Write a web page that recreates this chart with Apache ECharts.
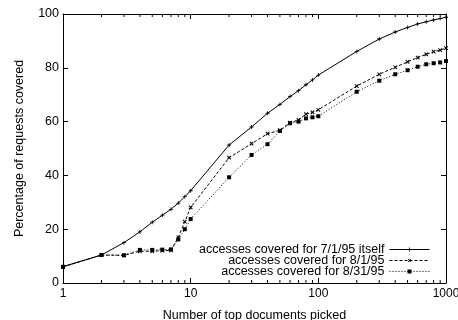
<!DOCTYPE html>
<html>
<head>
<meta charset="UTF-8">
<title></title>
<script src="https://cdn.jsdelivr.net/npm/echarts@6/dist/echarts.min.js"></script>
</head>
<body style="margin:0">
<div id="main" style="width:458px;height:320px;"></div>
<script type="text/javascript">
// number of top documents picked
var docs = [1, 2, 3, 4, 5, 6, 7, 8, 9, 10, 20, 30, 40, 50, 60, 70, 80, 90, 100, 200, 300, 400, 500, 600, 700, 800, 900, 1000];
var july1 = [6.1, 10.4, 15.0, 19.0, 22.6, 25.2, 27.4, 29.7, 32.1, 34.3, 51.3, 58.0, 63.1, 66.4, 69.3, 71.5, 73.7, 75.5, 77.3, 86.1, 90.7, 93.3, 95.0, 96.3, 97.1, 97.8, 98.3, 98.8];
var aug1 = [6.0, 10.4, 10.3, 11.8, 11.8, 12.0, 12.1, 17.0, 22.8, 28.1, 46.6, 51.8, 55.5, 56.8, 59.6, 60.6, 62.8, 63.4, 64.4, 73.2, 77.6, 80.2, 82.2, 83.8, 85.0, 86.0, 86.6, 87.3];
var aug31 = [6.0, 10.4, 10.3, 12.3, 12.3, 12.4, 12.5, 16.2, 20.0, 23.8, 39.3, 47.6, 51.6, 56.5, 59.4, 60.0, 61.2, 61.6, 62.0, 71.1, 75.2, 77.6, 79.1, 80.4, 81.3, 81.7, 82.0, 82.5];
var names = ['accesses covered for 7/1/95 itself', 'accesses covered for 8/1/95', 'accesses covered for 8/31/95'];
var minorTicks = [2, 3, 4, 5, 6, 7, 8, 9, 20, 30, 40, 50, 60, 70, 80, 90, 200, 300, 400, 500, 600, 700, 800, 900];

var font = 'Liberation Sans, Arial, sans-serif';
var plusPath = 'path://M4,0H6V10H4Z M0,4H10V6H0Z';

function pairs(ys) {
	return docs.map(function (x, i) { return [x, ys[i]]; });
}

function lineSeries(name, ys, type, symbol, size, rotate) {
	return {
		name: name,
		type: 'line',
		data: pairs(ys),
		symbol: symbol,
		symbolSize: size,
		symbolRotate: rotate || 0,
		showSymbol: true,
		color: '#000',
		lineStyle: { color: '#000', width: 1, type: type },
		itemStyle: { color: '#000' },
		animation: false
	};
}

var axisTxt = { color: '#000', fontFamily: font, fontSize: 12.5 };
var tickStyle = { inside: true, length: 5, lineStyle: { color: '#000' } };
var lineStyle = { onZero: false, lineStyle: { color: '#000', width: 1 } };

var option = {
	backgroundColor: '#fff',
	grid: { left: 63, right: 12, top: 14, bottom: 37, outerBoundsMode: 'none', containLabel: false },
	legend: [0, 1, 2].map(function (i) {
		return {
			data: [names[i]],
			right: 28,
			top: 243 + i * 11,
			padding: 0,
			align: 'right',
			itemWidth: 40,
			itemHeight: 5,
			itemGap: 0,
			lineStyle: { width: 1 },
			textStyle: { color: '#000', fontFamily: font, fontSize: 12.5, padding: [0, 0, 0, -2] }
		};
	}),
	xAxis: [{
		type: 'log',
		logBase: 10,
		min: 1,
		max: 1000,
		name: 'Number of top documents picked',
		nameLocation: 'middle',
		nameGap: 26,
		nameTextStyle: axisTxt,
		axisLine: lineStyle,
		axisTick: tickStyle,
		axisLabel: {
			color: '#000', fontFamily: font, fontSize: 12, margin: 5,
			formatter: function (v) { return String(v); }
		},
		splitLine: { show: false }
	}, {
		type: 'log',
		logBase: 10,
		min: 1,
		max: 1000,
		position: 'top',
		axisLine: lineStyle,
		axisTick: tickStyle,
		axisLabel: { show: false },
		splitLine: { show: false }
	}],
	yAxis: [{
		type: 'value',
		min: 0,
		max: 100,
		interval: 20,
		name: 'Percentage of requests covered',
		nameLocation: 'middle',
		nameGap: 37,
		nameTextStyle: axisTxt,
		axisLine: { show: true, onZero: false, lineStyle: { color: '#000', width: 1 } },
		axisTick: { show: true, inside: true, length: 5, lineStyle: { color: '#000' } },
		axisLabel: { color: '#000', fontFamily: font, fontSize: 12.5, margin: 4 },
		splitLine: { show: false }
	}, {
		type: 'value',
		min: 0,
		max: 100,
		interval: 20,
		position: 'right',
		axisLine: { show: true, onZero: false, lineStyle: { color: '#000', width: 1 } },
		axisTick: { show: true, inside: true, length: 5, lineStyle: { color: '#000' } },
		axisLabel: { show: false },
		splitLine: { show: false }
	}],
	series: [
		lineSeries(names[0], july1, 'solid', plusPath, 4),
		lineSeries(names[1], aug1, [3, 2], plusPath, 5, 45),
		lineSeries(names[2], aug31, [1, 2], 'rect', 4),
		{
			// minor log ticks, top and bottom
			type: 'custom',
			silent: true,
			animation: false,
			data: minorTicks.map(function (v) { return [v, 0]; }),
			encode: { x: 0, y: 1 },
			renderItem: function (params, api) {
				var b = api.coord([api.value(0), 0]);
				var t = api.coord([api.value(0), 100]);
				var st = { stroke: '#000', lineWidth: 1 };
				return {
					type: 'group',
					children: [
						{ type: 'line', shape: { x1: b[0], y1: b[1], x2: b[0], y2: b[1] - 3 }, style: st },
						{ type: 'line', shape: { x1: t[0], y1: t[1], x2: t[0], y2: t[1] + 3 }, style: st }
					]
				};
			}
		}
	]
};

var myChart = echarts.init(document.getElementById('main'));
myChart.setOption(option);
</script>
</body>
</html>
